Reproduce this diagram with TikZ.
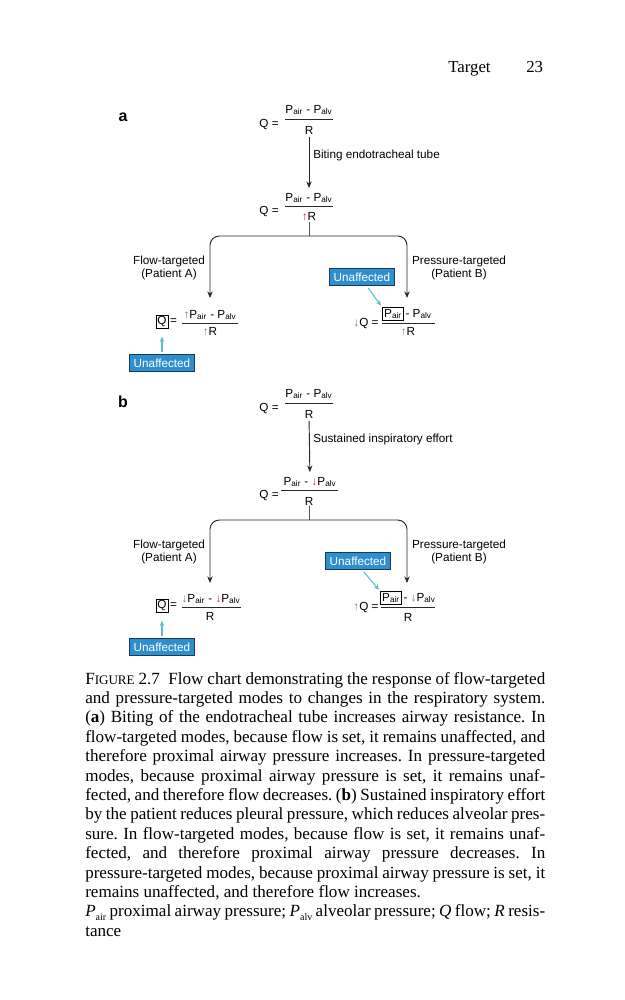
\documentclass[tikz,border=0pt]{standalone}
\usepackage{fontspec}
\setmainfont{Liberation Serif}
\newfontfamily\dsans{Liberation Sans}
\usetikzlibrary{arrows.meta}
\definecolor{arrred}{RGB}{214,40,70}
\definecolor{arrgray}{RGB}{125,125,125}
\definecolor{ublue}{RGB}{46,143,207}
\definecolor{uborder}{RGB}{30,55,85}
\definecolor{tealc}{RGB}{92,190,200}
\definecolor{linec}{RGB}{40,40,40}
\newcommand{\sbs}[1]{\textsubscript{#1}}
\newcommand{\upa}[1]{{\color{#1}↑}}
\newcommand{\dna}[1]{{\color{#1}↓}}
\newcommand{\bx}[1]{{\setlength{\fboxsep}{0.8pt}\setlength{\fboxrule}{0.6pt}\fbox{#1}}}
\newcommand{\capline}[1]{\makebox[\linewidth][s]{#1}\\}
\begin{document}
\begin{tikzpicture}[x=0.75pt,y=-0.75pt,
  eq/.style={font=\dsans\fontsize{8.8}{10}\selectfont, inner sep=0.5pt},
  lbl/.style={font=\dsans\fontsize{8.8}{9.8}\selectfont, inner sep=0, align=center},
  fracbar/.style={draw=linec, line width=0.5pt},
  conn/.style={draw=linec, line width=0.7pt, -{Stealth[length=5pt,width=4pt]}},
  plain/.style={draw=linec!80, line width=0.6pt},
  unaff/.style={fill=ublue, draw=uborder, line width=0.8pt, text=white, font=\dsans\fontsize{8.8}{10}\selectfont, minimum width=49pt, minimum height=12.5pt, inner sep=1pt},
  tealarr/.style={draw=tealc, line width=0.8pt, -{Stealth[length=4pt,width=3.5pt]}},
  panel/.style={font=\dsans\bfseries\fontsize{12}{12}\selectfont, inner sep=0}
]
\path[use as bounding box, fill=white] (0,0) rectangle (625,1000);

% header
\node[anchor=base west, inner sep=0, font=\fontsize{12.6}{14}\selectfont] (hd) at (448,72) {Target};
\node[anchor=base west, inner sep=0, font=\fontsize{12.6}{14}\selectfont] (pg) at (526,72) {23};

% ---------------- panel a ----------------
\node[panel] (la) at (123,117) {a};
\node[eq] (a1q) at (269,125) {Q =};
\node[eq] (a1n) at (309,110) {P\sbs{air} - P\sbs{alv}};
\node[eq] (a1d) at (309,130) {R};
\draw[fracbar] (285,119) -- (333,119);

\node[eq] (a2q) at (269,212) {Q =};
\node[eq] (a2n) at (309,198) {P\sbs{air} - P\sbs{alv}};
\node[eq] (a2d) at (309,217) {\upa{arrred}R};
\draw[fracbar] (285,206) -- (333,206);

\draw[conn, shorten <=1.5pt, shorten >=3pt] (a1d) -- (a2n);
\node[lbl, anchor=west] (t1) at (313,155) {Biting endotracheal tube};

\node[lbl] (a3lt) at (169,268) {Flow-targeted\\(Patient A)};
\node[lbl] (a3rt) at (459,268) {Pressure-targeted\\(Patient B)};

% left equation a
\node[eq] (a3lq) at (162,322) {\bx{Q}};
\node[eq] (a3le) at (173.5,322) {=};
\node[eq] (a3ln) at (210,315) {\upa{arrgray}P\sbs{air} - P\sbs{alv}};
\node[eq] (a3ld) at (210,332) {\upa{arrgray}R};
\draw[fracbar] (182,323) -- (238,323);
\node[unaff] (a3lu) at (162,363) {Unaffected};
\draw[tealarr, shorten <=1.5pt, shorten >=5pt] (a3lu) -- (a3lq);

% right equation a
\node[eq] (a3rq) at (366,324) {\dna{arrgray}Q =};
\node[eq] (a3rp) at (393,314) {\bx{P\sbs{air}}};
\node[eq, anchor=west] (a3rr) at (a3rp.east) {- P\sbs{alv}};
\node[eq] (a3rd) at (408,332) {\upa{arrgray}R};
\draw[fracbar] (382,323) -- (435,323);
\node[unaff] (a3ru) at (362,277) {Unaffected};
\draw[tealarr, shorten <=2pt, shorten >=0.5pt] ([xshift=3.5pt]a3ru.south) -- (a3rp.north west);

% branch a
\coordinate (a2j) at (309,236);
\coordinate (a3la) at (210,298);
\coordinate (a3ra) at (407,298);
\draw[plain] (a2d.south) -- (a2j);
\draw[conn, rounded corners=7pt] (a2j) -| (a3la);
\draw[conn, rounded corners=7pt] (a2j) -| (a3ra);

% ---------------- panel b ----------------
\node[panel] (lb) at (123,402) {b};
\node[eq] (b1q) at (269,409) {Q =};
\node[eq] (b1n) at (309,394) {P\sbs{air} - P\sbs{alv}};
\node[eq] (b1d) at (309,414) {R};
\draw[fracbar] (285,403) -- (333,403);

\node[eq] (b2q) at (269,496) {Q =};
\node[eq] (b2n) at (310,482) {P\sbs{air} - \dna{arrred}P\sbs{alv}};
\node[eq] (b2d) at (309,501) {R};
\draw[fracbar] (281,490) -- (338,490);

\draw[conn, shorten <=1.5pt, shorten >=3pt] (b1d) -- (b2n);
\node[lbl, anchor=west] (t2) at (313,439) {Sustained inspiratory effort};

\node[lbl] (b3lt) at (169,552) {Flow-targeted\\(Patient A)};
\node[lbl] (b3rt) at (459,552) {Pressure-targeted\\(Patient B)};

% left equation b
\node[eq] (b3lq) at (162,606) {\bx{Q}};
\node[eq] (b3le) at (173.5,606) {=};
\node[eq] (b3ln) at (211,599) {\dna{arrgray}P\sbs{air} - \dna{arrred}P\sbs{alv}};
\node[eq] (b3ld) at (210,616) {R};
\draw[fracbar] (182,607) -- (241,607);
\node[unaff] (b3lu) at (162,647) {Unaffected};
\draw[tealarr, shorten <=1.5pt, shorten >=5pt] (b3lu) -- (b3lq);

% right equation b
\node[eq] (b3rq) at (366,608) {\upa{arrgray}Q =};
\node[eq] (b3rp) at (391,598) {\bx{P\sbs{air}}};
\node[eq, anchor=west] (b3rr) at (b3rp.east) {- \dna{arrgray}P\sbs{alv}};
\node[eq] (b3rd) at (408,617) {R};
\draw[fracbar] (381,607) -- (435,607);
\node[unaff] (b3ru) at (358,561) {Unaffected};
\draw[tealarr, shorten <=2pt, shorten >=0.5pt] ([xshift=3pt]b3ru.south) -- (b3rp.north west);

% branch b
\coordinate (b2j) at (309,520);
\coordinate (b3la) at (210,583);
\coordinate (b3ra) at (407,583);
\draw[plain] (b2d.south) -- (b2j);
\draw[conn, rounded corners=7pt] (b2j) -| (b3la);
\draw[conn, rounded corners=7pt] (b2j) -| (b3ra);

% ---------------- caption ----------------
\node[anchor=base west, inner sep=0] (cap) at (85,684) {\begin{minipage}[t]{345pt}
\fontsize{12.8}{14.55}\selectfont\setlength{\parindent}{0pt}\frenchspacing%
\capline{F{\fontsize{9.8}{10}\selectfont IGURE} 2.7\enspace Flow chart demonstrating the response of flow-targeted}
\capline{and pressure-targeted modes to changes in the respiratory system.}
\capline{(\textbf{a}) Biting of the endotracheal tube increases airway resistance. In}
\capline{flow-targeted modes, because flow is set, it remains unaffected, and}
\capline{therefore proximal airway pressure increases. In pressure-targeted}
\capline{modes, because proximal airway pressure is set, it remains unaf-}
\capline{fected, and therefore flow decreases. (\textbf{b}) Sustained inspiratory effort}
\capline{by the patient reduces pleural pressure, which reduces alveolar pres-}
\capline{sure. In flow-targeted modes, because flow is set, it remains unaf-}
\capline{fected, and therefore proximal airway pressure decreases. In}
\capline{pressure-targeted modes, because proximal airway pressure is set, it}
remains unaffected, and therefore flow increases.\\
\capline{\textit{P}\raisebox{-2.5pt}{\fontsize{7.5}{7.5}\selectfont air} proximal airway pressure; \textit{P}\raisebox{-2.5pt}{\fontsize{7.5}{7.5}\selectfont alv} alveolar pressure; \textit{Q} flow; \textit{R} resis-}
tance
\end{minipage}};
\end{tikzpicture}
\end{document}
